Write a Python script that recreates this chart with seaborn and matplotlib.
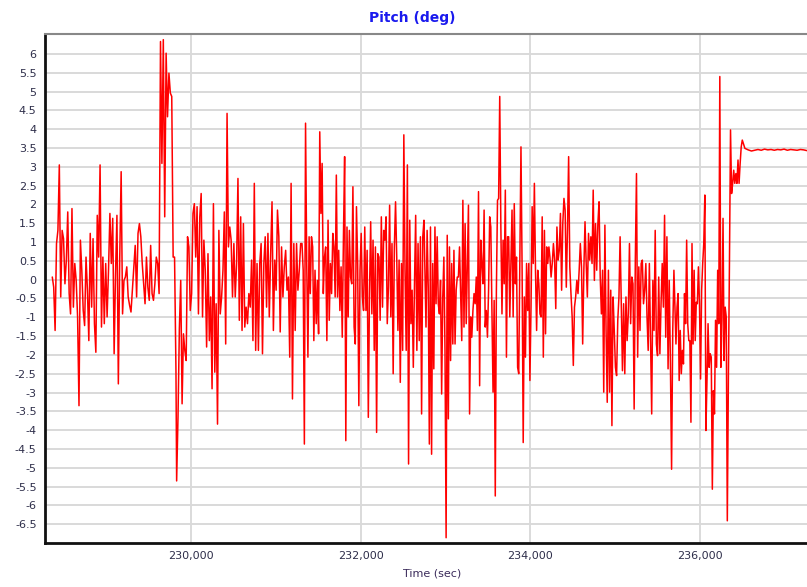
import numpy as np
import pandas as pd
import matplotlib
matplotlib.use("Agg")
import matplotlib.pyplot as plt
import matplotlib.ticker as mticker
import seaborn as sns

# pitch readings (deg)
# each piece is evenly sampled between its start and end time (sec)
seg_a = [0.07, -0.20, -1.35, 0.96, 1.31, 3.05, -0.46, 1.31, 1.09, -0.11, 0.52, 1.80,
         -0.37, -0.91, 1.89, -0.73, 0.43, -0.02, -0.99, -3.35, 1.05, 0.25, -0.82, -1.22,
         0.60, -0.28, -1.62, 1.23, -0.73, 1.09, -1.17, -1.93, 1.71, 0.60, 3.05, -1.26,
         0.60, -1.17, 0.43, -0.99, 0.25, 1.76, 0.43, 1.63, -1.97, 0.16, 1.71, -2.77,
         0.60, 2.87, -0.91, -0.02, 0.07, 0.34, -0.46, -0.68, -0.86, -0.28, 0.34, 0.91,
         -0.46, 1.23, 1.49, 1.14, 0.43, -0.11, -0.64, 0.60, -0.20, -0.55, 0.91, -0.37,
         -0.55, -0.11, 0.60, 0.43, -0.37, 6.33, 3.09, 6.38, 1.67, 6.02, 4.33, 5.49,
         4.96, 4.87, 0.60, 0.60, -2.42]
seg_b = [-5.35, -3.66, -1.31, -0.02, -3.30, -1.44, -1.88, -2.15, 1.14, 0.87, -0.82, -0.37,
         1.76, 2.02, 0.60, 1.94, -0.91, 1.67, 2.29, -0.99, 1.05, 0.25, -1.79, 0.69,
         -1.62, -0.46, -2.90, 2.02, -2.46, -0.64, -3.84, 1.31, -0.91, -0.46, 0.25, 1.80,
         -1.71, 4.42, 0.87, 1.40, 1.05, -0.46, 0.96, -0.46, 0.43, 2.69, -1.08, 1.67,
         -1.35, 1.49, -1.26, -0.73, -1.17, -0.37, -0.73, 0.52, -1.62, 2.56, -1.88, 0.43,
         -1.88, 0.43, 0.96, -1.97, 0.43, 1.14, -0.73, 1.23, -0.99, 0.69, 2.07, -1.35,
         0.52, -0.28, 1.85, 1.14, -1.39, 0.87, -0.46, 0.34, 0.78, -0.28, 0.07, -2.06,
         2.56, -3.17, 0.96, -1.35, 0.96, -0.28, 0.25, 0.96]
seg_c = [0.96, 0.25, -4.37, 4.16, 0.43, -2.06, 1.14, -0.37, 1.14, 0.87, -1.62, 0.25,
         -1.17, -0.02, -1.44, 3.93, 1.76, 3.09, -0.37, 0.60, 0.87, -1.62, 1.58, -1.08,
         0.43, -0.37, 1.23, 0.87, -0.46, 2.78, -0.46, 0.78, -0.82, 0.34, -1.53, 1.14,
         3.27, -4.28, 1.40, -0.99, 1.31, 0.07, -0.11, 2.47, -1.26, -1.71, 1.94, 0.43,
         -3.35, 0.25, 1.23, -0.46, -0.82, 1.40, -0.82, 0.78, -3.66, -0.37, 1.54, -0.91,
         1.05, -1.88, 0.87, -4.06, 0.69, 0.60, -1.08, 1.67, -0.73, 1.31, 1.05, 1.67,
         -1.17, -0.20, 1.98, -0.99, 0.96, -2.50, 0.87, 2.07, 0.60, -1.35, 0.52, -2.73,
         0.43, -1.88, 3.85, 0.25, -1.88, 3.05, -4.90, 1.58, -1.17, -0.28, -2.33, -0.11,
         1.71, -1.88, 0.96, -1.62, 1.14, -3.57, 1.14, 1.58]
seg_d = [-1.26, 1.31, -0.20, -4.37, 1.40, -4.64, 0.43, -2.37, 1.40, -0.64, 1.14, -0.64,
         -0.91, -0.02, -3.04, -0.46, 0.60, -1.88, -6.86, 1.18, -3.70, 0.87, -2.15, 0.43,
         -1.71, 0.78, -1.71, -0.28, 0.07, 0.07, 0.87, -0.37, -1.62, 2.11, -1.26, 1.49,
         -1.17, 0.43, 1.98, -3.57, -0.99, -1.53, -0.82, -0.37, -0.64, 0.07, -1.35, 2.34,
         -2.82, 1.05, 0.43, -0.11, 1.85, -1.26, -0.82, -1.53, -0.28, 1.67, 1.40, -0.82,
         -2.99, -0.55, -5.75, -0.28, 2.11, 2.16, 4.87, 1.40, -0.91, 1.05, -0.11, 2.38,
         -2.06, 1.14, 1.14, -0.99, 0.43, 1.85, -0.99, 2.02, -0.11, 0.60, -2.33, -2.50,
         0.60, 3.53, 0.34, -4.33, -0.46, -2.06, 0.43, -0.82, 0.43, -2.68, -0.73, 1.94,
         0.43, 2.56, 0.25, -1.35, 0.25, -0.11, -0.91, -0.99, 1.67, -2.06, 1.31, -1.44,
         0.87, 0.43, 0.87]
seg_e = [0.60, 0.07, 0.43, 0.96, 0.52, -0.77, 1.40, 0.52, 0.78, 1.76, -0.28, 1.49,
         2.16, 1.85, -0.20, 1.31, 3.27, 0.34, -0.37, -0.99, -2.28, -0.73, -0.46, -0.02,
         -0.37, 0.25, 0.96, 0.34, -1.71, 0.25, 1.54, 0.43, -0.46, 1.23, 0.52, 1.14,
         0.43, 2.38, -0.02, 1.49, 0.25, 1.49, 2.07, 0.07, -0.91, 0.25, -2.99, 1.45,
         -1.35, -3.26, 0.25, -2.99, -0.28, -3.88, -0.46, -1.35, -2.33, -2.55, -1.08, -0.46,
         1.14, -0.64, -2.42, -0.64, -2.50, -0.46, -1.62, -0.91, 0.96, -1.17, 0.07, -0.11,
         -3.44, 0.52, 2.82, -2.06, 0.34, -1.35, 0.43, 0.52, -0.64, -0.28, 0.43, -0.99,
         -1.88, 0.43, -1.62, -3.57, -0.02, -1.35, 1.31, -1.71, -2.02, 0.07, -1.97, -0.64,
         0.43, -0.73, 1.71, -1.53, 1.14, -2.37, -0.02, -2.24, -5.04, -1.35, 0.25]
seg_f = [-1.71, -0.73, -0.37, -2.68, -1.35, -2.50, -1.88, -2.24, -0.37, -1.17, 1.05, -1.17,
         -1.62, -1.62, -3.79, 0.96, -1.71, 0.25, -1.62, -0.60, -0.64, 0.34, -0.64, -2.64,
         -0.28, 0.43, 0.96, 2.25, -4.01, -2.68, -1.17, -2.33, -1.97, -2.06, -5.57, -2.95,
         -3.57, -1.08, -2.33, 0.25, -1.17, 5.40, -2.33, -1.08, 1.63, -2.15, -0.73, -0.99,
         -6.41, -2.68, 0.43, 3.98, 2.29, 2.56, 2.91, 2.56, 2.82, 2.56, 3.18, 2.56,
         3.09, 3.53, 3.71]
seg_g = [3.49, 3.45, 3.42, 3.44, 3.46, 3.44, 3.47, 3.45, 3.46, 3.44, 3.46, 3.45,
         3.47, 3.44, 3.46, 3.45, 3.44, 3.46, 3.45, 3.43]

segments = [
    (228365, 229823, seg_a),
    (229831, 231293, seg_b),
    (231309, 232747, seg_c),
    (232771, 234220, seg_d),
    (234232, 235694, seg_e),
    (235718, 236500, seg_f),
    (236531, 237262, seg_g),
]

x_major = [230000, 232000, 234000, 236000]
y_major = np.arange(-6.5, 6.01, 0.5)

frames = []
for t0, t1, vals in segments:
    frames.append(pd.DataFrame({"time": np.linspace(t0, t1, len(vals)), "pitch": vals}))
df = pd.concat(frames, ignore_index=True)

sns.set_theme(style="white")
plt.rcParams['font.family'] = ['DejaVu Sans']

fig = plt.figure(figsize=(8.07, 5.87), dpi=100)
ax = fig.add_axes([45 / 807, 1 - 543 / 587, 1 - 45 / 807, (543 - 34) / 587])

sns.lineplot(data=df, x="time", y="pitch", ax=ax, color="#ff0000", linewidth=1.1,
             estimator=None, sort=False)

ax.set_xlim(228279, 237263)
ax.set_ylim(-7.0, 6.53)

ax.set_xticks(x_major)
ax.xaxis.set_minor_locator(mticker.MultipleLocator(400))
ax.xaxis.set_major_formatter(mticker.FuncFormatter(lambda v, p: f"{int(v):,}"))
ax.set_yticks(y_major)
ax.yaxis.set_minor_locator(mticker.MultipleLocator(0.1))
ax.yaxis.set_major_formatter(mticker.FuncFormatter(lambda v, p: f"{v:g}" if abs(v) > 1e-9 else "0"))

ax.grid(True, axis="y", which="major", color="#d9d9d9", linewidth=1.4)
ax.grid(True, axis="x", which="major", color="#d4d4d4", linewidth=1.2)
ax.set_axisbelow(True)

lab_col = "#2e2e4a"
ax.tick_params(axis="both", which="major", direction="out", length=4, width=1,
               color="#555555", labelsize=8, labelcolor=lab_col, pad=2)
ax.tick_params(axis="both", which="minor", direction="out", length=3, width=0.8,
               color="#555555")
ax.tick_params(axis="y", which="minor", length=2.5)

for side in ["left", "bottom"]:
    ax.spines[side].set_color("#111111")
    ax.spines[side].set_linewidth(2)
ax.spines["top"].set_color("#888888")
ax.spines["top"].set_linewidth(1.5)
ax.spines["right"].set_visible(False)

ax.set_xlabel("")
ax.set_ylabel("")
fig.text(432 / 807, 1 - 573 / 587, "Time (sec)", ha="center", va="center",
         fontsize=8, color="#3a2a5a")
fig.text(412 / 807, 1 - 18 / 587, "Pitch (deg)", ha="center", va="center",
         fontsize=10, fontweight="bold", color="#1a1aee")

fig.savefig("out.png", dpi=100)
